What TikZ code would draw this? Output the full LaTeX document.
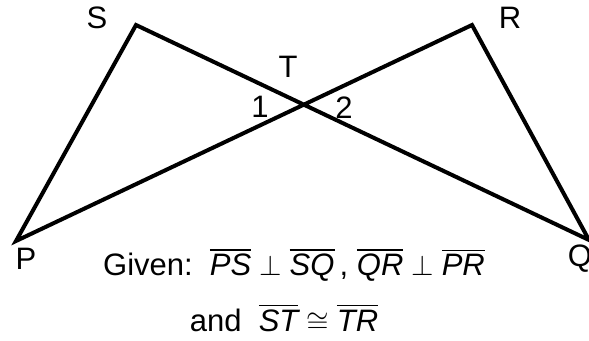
\documentclass[tikz,border=0pt]{standalone}
\usepackage{amsmath}
\usepackage{amssymb}
\usepackage{fontspec}
\setmainfont{Liberation Sans}
\usetikzlibrary{positioning}
\tikzset{
    x=0.5pt, y=-0.5pt, % one unit is one pixel of the figure
    side/.style={line width=2pt, line join=miter}, % the sides of the two triangles
    vertex/.style={font=\fontsize{15.5}{18}\selectfont, inner sep=0pt}, % the letters at the corners
    given/.style={font=\fontsize{15.5}{18}\selectfont, inner sep=0pt}, % the lines of text below
}
\newcommand{\seg}[1]{\overline{\mbox{\itshape #1}}}

\begin{document}
\begin{tikzpicture}
    \useasboundingbox (0,0) rectangle (589,341);
    \coordinate (s) at (136,25);
    \coordinate (r) at (472,25);
    \coordinate (p) at (16,241);
    \coordinate (q) at (589,240);
    \coordinate (t) at (304,105);
    \draw[side] (p) -- (s) -- (q) -- (r) -- cycle;
    \node[vertex] (S) at (97,18) {S};
    \node[vertex] (R) at (510,18) {R};
    \node[vertex] (T) at (288,67) {T};
    \node[vertex] (P) at (26,259) {P};
    \node[vertex] (Q) at (580,259) {Q};
    \node[vertex] (one) at (260,107) {1};
    \node[vertex] (two) at (344,108) {2};
    \node[given] (line1) at (294,265) {Given:\ \ $\seg{PS}\perp\seg{SQ}$\,, $\seg{QR}\perp\seg{PR}$};
    \node[given] (line2) at (284,318) {and\ \ $\seg{ST}\cong\seg{TR}$};
\end{tikzpicture}
\end{document}
